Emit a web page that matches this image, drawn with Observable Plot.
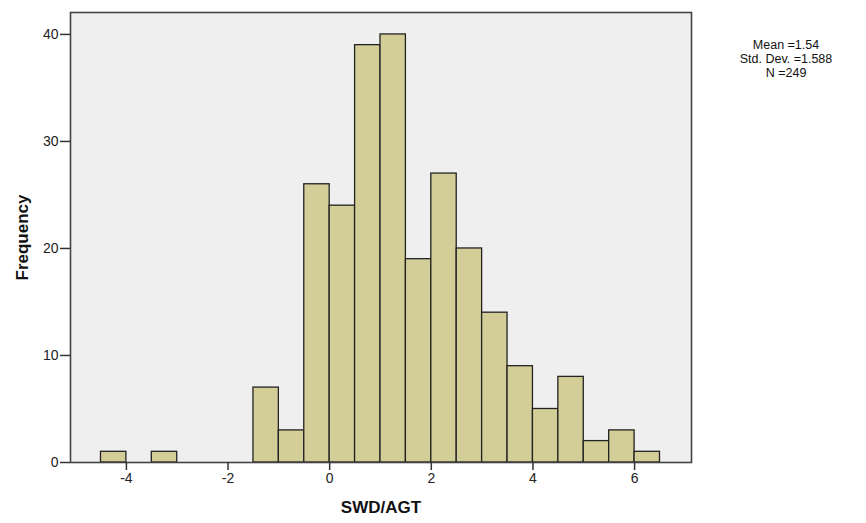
<!DOCTYPE html>
<html><head><meta charset="utf-8">
<script src="https://cdn.jsdelivr.net/npm/d3@7"></script>
<script src="https://cdn.jsdelivr.net/npm/@observablehq/plot@0.6"></script>
<style>
body{margin:0;background:#fff;font-family:"Liberation Sans",Arial,sans-serif}
#wrap{position:relative;width:866px;height:523px}
#stats{position:absolute;left:706px;top:38px;width:160px;text-align:center;font-size:12.5px;line-height:14px;color:#111}
</style>
</head><body>
<div id="wrap"><div id="stats">Mean =1.54<br>Std. Dev. =1.588<br>N =249</div></div>
<script>
const binStart = [-4.5,-3.5,-1.5,-1,-0.5,0,0.5,1,1.5,2,2.5,3,3.5,4,4.5,5,5.5,6];
const counts = [1,1,7,3,26,24,39,40,19,27,20,14,9,5,8,2,3,1];
const binWidth = 0.5;
const xTicks = [-4,-2,0,2,4,6];
const yTicks = [0,10,20,30,40];
const xLabel = "SWD/AGT";
const yLabel = "Frequency";

const data = binStart.map((s,i)=>({x1:s, x2:s+binWidth, count:counts[i]}));

const chart = Plot.plot({
  width:866, height:523,
  marginLeft:70, marginRight:175, marginTop:12, marginBottom:61,
  x:{domain:[-5.1,7.12]},
  y:{domain:[0,42.05]},
  style:{fontFamily:'"Liberation Sans",Arial,sans-serif', fontSize:"14px", color:"#222", background:"transparent"},
  marks:[
    Plot.frame({fill:"#efefef", stroke:null}),
    Plot.rectY(data,{x1:"x1", x2:"x2", y:"count", fill:"#d3ce97", stroke:"#222", strokeWidth:1.3, inset:0}),
    Plot.frame({stroke:"#444", strokeWidth:1.6}),
    Plot.axisX({ticks:xTicks, tickSize:8, tickPadding:3, tickFormat:d=>d<0?"-"+Math.abs(d):String(d), label:null, stroke:"#333", strokeWidth:1.5}),
    Plot.axisY({ticks:yTicks, tickSize:10, tickPadding:2, label:null, stroke:"#333", strokeWidth:1.5}),
    Plot.text([xLabel],{frameAnchor:"bottom", dy:50, fontWeight:"bold", fontSize:17, fill:"#111"}),
    Plot.text([yLabel],{frameAnchor:"left", dx:-48, rotate:-90, textAnchor:"middle", fontWeight:"bold", fontSize:17, fill:"#111"})
  ]
});
document.getElementById("wrap").prepend(chart);
</script>
</body></html>
